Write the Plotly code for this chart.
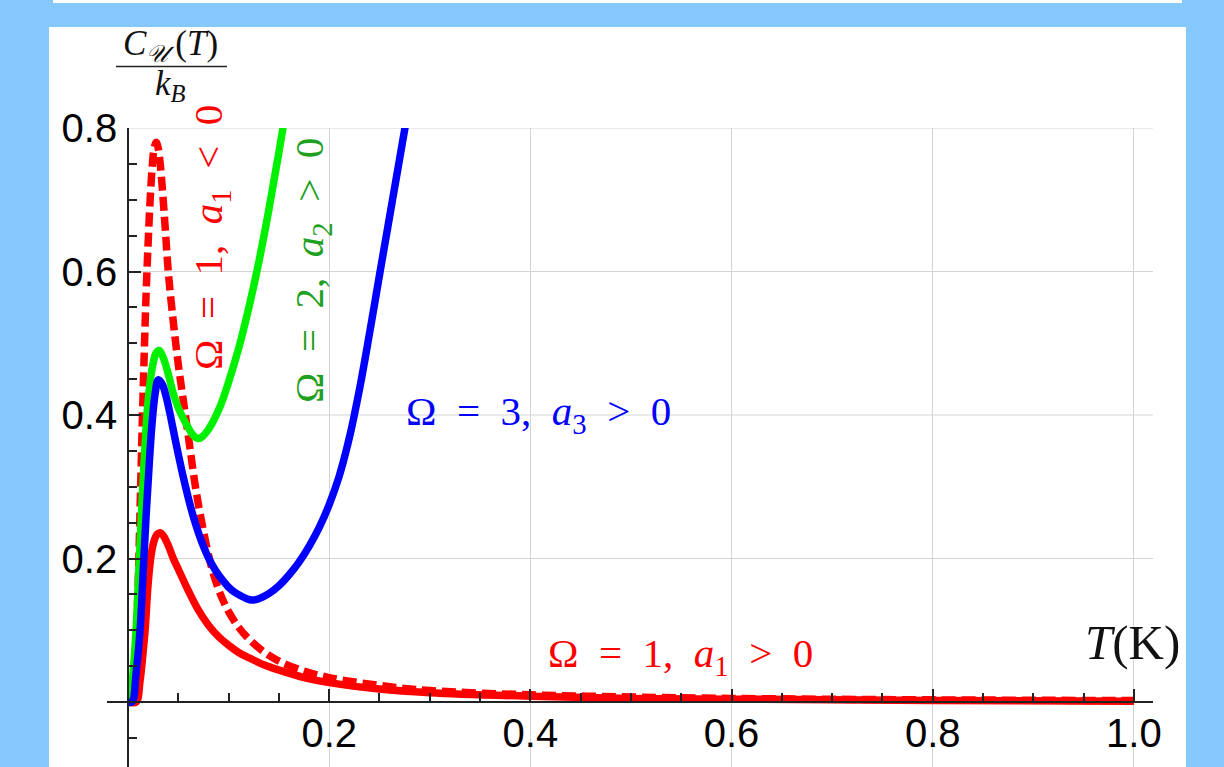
import plotly.graph_objects as go

# ---------------- data ----------------
red_solid_T = [0.0, 0.008, 0.012, 0.015, 0.017, 0.020, 0.023, 0.026, 0.029, 0.032, 0.035, 0.040,
               0.045, 0.050, 0.060, 0.070, 0.080, 0.090, 0.100, 0.110, 0.121, 0.135, 0.151, 0.175,
               0.200, 0.250, 0.300, 0.400, 0.500, 0.600, 0.800, 1.000]
red_solid_C = [0.0, 0.0, 0.03, 0.07, 0.10, 0.165, 0.205, 0.225, 0.234, 0.236, 0.232, 0.218,
               0.200, 0.185, 0.155, 0.128, 0.107, 0.091, 0.079, 0.069, 0.061, 0.052, 0.044, 0.034,
               0.027, 0.018, 0.013, 0.008, 0.005, 0.004, 0.002, 0.001]

red_dash_T = [0.0, 0.004, 0.007, 0.010, 0.012, 0.014, 0.016, 0.018, 0.020, 0.022, 0.024, 0.026,
              0.028, 0.030, 0.032, 0.034, 0.037, 0.040, 0.045, 0.050, 0.055, 0.060, 0.067, 0.072,
              0.080, 0.085, 0.090, 0.095, 0.100, 0.110, 0.120, 0.135, 0.150, 0.175, 0.200, 0.250,
              0.300, 0.400, 0.500, 0.600, 0.800, 1.000]
red_dash_C = [0.0, 0.0, 0.05, 0.16, 0.27, 0.38, 0.48, 0.57, 0.64, 0.70, 0.745, 0.772,
              0.780, 0.772, 0.750, 0.718, 0.660, 0.600, 0.530, 0.470, 0.420, 0.370, 0.300, 0.260,
              0.205, 0.178, 0.157, 0.140, 0.126, 0.104, 0.088, 0.070, 0.057, 0.043, 0.034, 0.023,
              0.016, 0.010, 0.007, 0.005, 0.003, 0.002]

green_T = [0.0, 0.002, 0.005, 0.008, 0.011, 0.014, 0.017, 0.020, 0.024, 0.028, 0.031, 0.035,
           0.040, 0.045, 0.050, 0.055, 0.060, 0.064, 0.068, 0.072, 0.080, 0.091, 0.100, 0.110,
           0.120, 0.130, 0.140, 0.150, 0.160]
green_C = [0.0, 0.0, 0.04, 0.10, 0.19, 0.28, 0.36, 0.42, 0.465, 0.487, 0.490, 0.480,
           0.457, 0.430, 0.410, 0.395, 0.382, 0.373, 0.368, 0.368, 0.380, 0.410, 0.446, 0.493,
           0.549, 0.613, 0.686, 0.766, 0.850]

blue_T = [0.0, 0.004, 0.008, 0.012, 0.015, 0.018, 0.021, 0.024, 0.027, 0.030, 0.034, 0.038,
          0.042, 0.046, 0.050, 0.055, 0.060, 0.065, 0.070, 0.075, 0.080, 0.085, 0.090, 0.095,
          0.100, 0.106, 0.112, 0.118, 0.123, 0.130, 0.140, 0.150, 0.160, 0.170, 0.180, 0.190,
          0.200, 0.210, 0.220, 0.230, 0.240, 0.250, 0.260, 0.270, 0.280, 0.290]
blue_C = [0.0, 0.0, 0.04, 0.10, 0.18, 0.26, 0.33, 0.39, 0.43, 0.449, 0.443, 0.425,
          0.400, 0.372, 0.345, 0.313, 0.284, 0.258, 0.236, 0.217, 0.201, 0.188, 0.177, 0.168,
          0.160, 0.153, 0.148, 0.144, 0.142, 0.144, 0.151, 0.162, 0.177, 0.195, 0.217, 0.243,
          0.275, 0.315, 0.368, 0.435, 0.513, 0.595, 0.676, 0.757, 0.838, 0.920]

x_tick_vals = [0.2, 0.4, 0.6, 0.8, 1.0]
x_tick_text = ["0.2", "0.4", "0.6", "0.8", "1.0"]
y_tick_vals = [0.2, 0.4, 0.6, 0.8]
y_tick_text = ["0.2", "0.4", "0.6", "0.8"]

label_red_neg = "Ω\u2002=\u20021,\u2002<i>a</i><sub>1</sub>\u2002<\u20020"
label_green = "Ω\u2002=\u20022,\u2002<i>a</i><sub>2</sub>\u2002>\u20020"
label_blue = "Ω\u2002=\u20023,\u2002<i>a</i><sub>3</sub>\u2002>\u20020"
label_red_pos = "Ω\u2002=\u20021,\u2002<i>a</i><sub>1</sub>\u2002>\u20020"

# ---------------- layout geometry ----------------
W, H = 1224, 767
L, R, T, B = 107, 1153, 128, 767          # plot area in px
XR = [-0.0209, 1.019]
YR = [-0.0906, 0.8]


def px(xp):
    return (xp - L) / (R - L)


def py(yp):
    return (B - yp) / (B - T)


RED = "#ff0000"
GREEN = "#00f000"
BLUE = "#0000ff"
SERIF = "Liberation Serif, DejaVu Serif, serif"
LW = 7.5

fig = go.Figure()
fig.add_trace(go.Scatter(x=red_dash_T, y=red_dash_C, mode="lines", line_shape="spline",
                         line=dict(color=RED, width=LW, dash="14px,6px"), showlegend=False))
fig.add_trace(go.Scatter(x=red_solid_T, y=red_solid_C, mode="lines", line_shape="spline",
                         line=dict(color=RED, width=LW), showlegend=False))
fig.add_trace(go.Scatter(x=green_T, y=green_C, mode="lines", line_shape="spline",
                         line=dict(color=GREEN, width=LW), showlegend=False))
fig.add_trace(go.Scatter(x=blue_T, y=blue_C, mode="lines", line_shape="spline",
                         line=dict(color=BLUE, width=LW), showlegend=False))

shapes = []
# white panels
shapes.append(dict(type="rect", xref="paper", yref="paper", layer="below",
                   x0=px(49), x1=px(1186), y0=py(767), y1=py(27),
                   fillcolor="white", line=dict(width=0)))
shapes.append(dict(type="rect", xref="paper", yref="paper", layer="below",
                   x0=px(53), x1=px(1182), y0=py(3), y1=py(-2),
                   fillcolor="white", line=dict(width=0)))
# horizontal grid lines (from the y axis to the right end)
for v in y_tick_vals:
    shapes.append(dict(type="line", xref="x", yref="y", layer="below",
                       x0=0, x1=XR[1], y0=v, y1=v,
                       line=dict(color="#d4d4d4", width=1.2)))
# fraction bar of the y label
shapes.append(dict(type="line", xref="paper", yref="paper",
                   x0=px(116), x1=px(227), y0=py(66.5), y1=py(66.5),
                   line=dict(color="#222222", width=1.6)))

annotations = [
    dict(xref="paper", yref="paper", x=px(170), y=py(46), showarrow=False,
         text="<i>C</i><sub><i>𝒰</i></sub>\u2009(<i>T</i>)", font=dict(family=SERIF, size=35, color="#111"),
         xanchor="center", yanchor="middle"),
    dict(xref="paper", yref="paper", x=px(170), y=py(86), showarrow=False,
         text="<i>k</i><sub><i>B</i></sub>", font=dict(family=SERIF, size=35, color="#111"),
         xanchor="center", yanchor="middle"),
    dict(xref="paper", yref="paper", x=px(1132), y=py(642), showarrow=False,
         text="<i>T</i>(K)", font=dict(family=SERIF, size=49, color="#111"),
         xanchor="center", yanchor="middle"),
    dict(xref="paper", yref="paper", x=px(211), y=py(238), showarrow=False, textangle=-90,
         text=label_red_neg, font=dict(family=SERIF, size=41, color=RED),
         xanchor="center", yanchor="middle"),
    dict(xref="paper", yref="paper", x=px(312), y=py(271), showarrow=False, textangle=-90,
         text=label_green, font=dict(family=SERIF, size=41, color="#1fa01f"),
         xanchor="center", yanchor="middle"),
    dict(xref="paper", yref="paper", x=px(538), y=py(414), showarrow=False,
         text=label_blue, font=dict(family=SERIF, size=41, color=BLUE),
         xanchor="center", yanchor="middle"),
    dict(xref="paper", yref="paper", x=px(680), y=py(656), showarrow=False,
         text=label_red_pos, font=dict(family=SERIF, size=41, color=RED),
         xanchor="center", yanchor="middle"),
]

tickfont = dict(family="Liberation Sans, Arial, sans-serif", size=40, color="black")

fig.update_layout(
    width=W, height=H,
    margin=dict(l=L, r=W - R, t=T, b=H - B, pad=0),
    paper_bgcolor="#84c8fc",
    plot_bgcolor="white",
    shapes=shapes,
    annotations=annotations,
    xaxis=dict(range=XR, anchor="free", position=(0 - YR[0]) / (YR[1] - YR[0]),
               showline=True, linecolor="#222222", linewidth=1.6,
               showgrid=True, gridcolor="#d4d4d4", gridwidth=1.2, zeroline=False,
               tickmode="array", tickvals=x_tick_vals, ticktext=x_tick_text,
               ticks="inside", ticklen=12, tickwidth=1.5, tickcolor="#222222",
               tickfont=tickfont, ticklabelstandoff=-4,
               minor=dict(dtick=0.05, tick0=0, ticks="inside", ticklen=8, tickwidth=1.5,
                          tickcolor="#222222", showgrid=False)),
    yaxis=dict(range=YR, anchor="free", position=(0 - XR[0]) / (XR[1] - XR[0]),
               showline=True, linecolor="#222222", linewidth=1.6,
               showgrid=False, zeroline=False,
               tickmode="array", tickvals=y_tick_vals, ticktext=y_tick_text,
               ticks="inside", ticklen=12, tickwidth=1.5, tickcolor="#222222",
               tickfont=tickfont, ticklabelstandoff=2,
               minor=dict(dtick=0.05, tick0=0, ticks="inside", ticklen=8, tickwidth=1.5,
                          tickcolor="#222222", showgrid=False)),
)

fig.write_html("out.html", config={"displayModeBar": False},
               post_script="document.body.style.margin='0';document.body.style.overflow='hidden';")
